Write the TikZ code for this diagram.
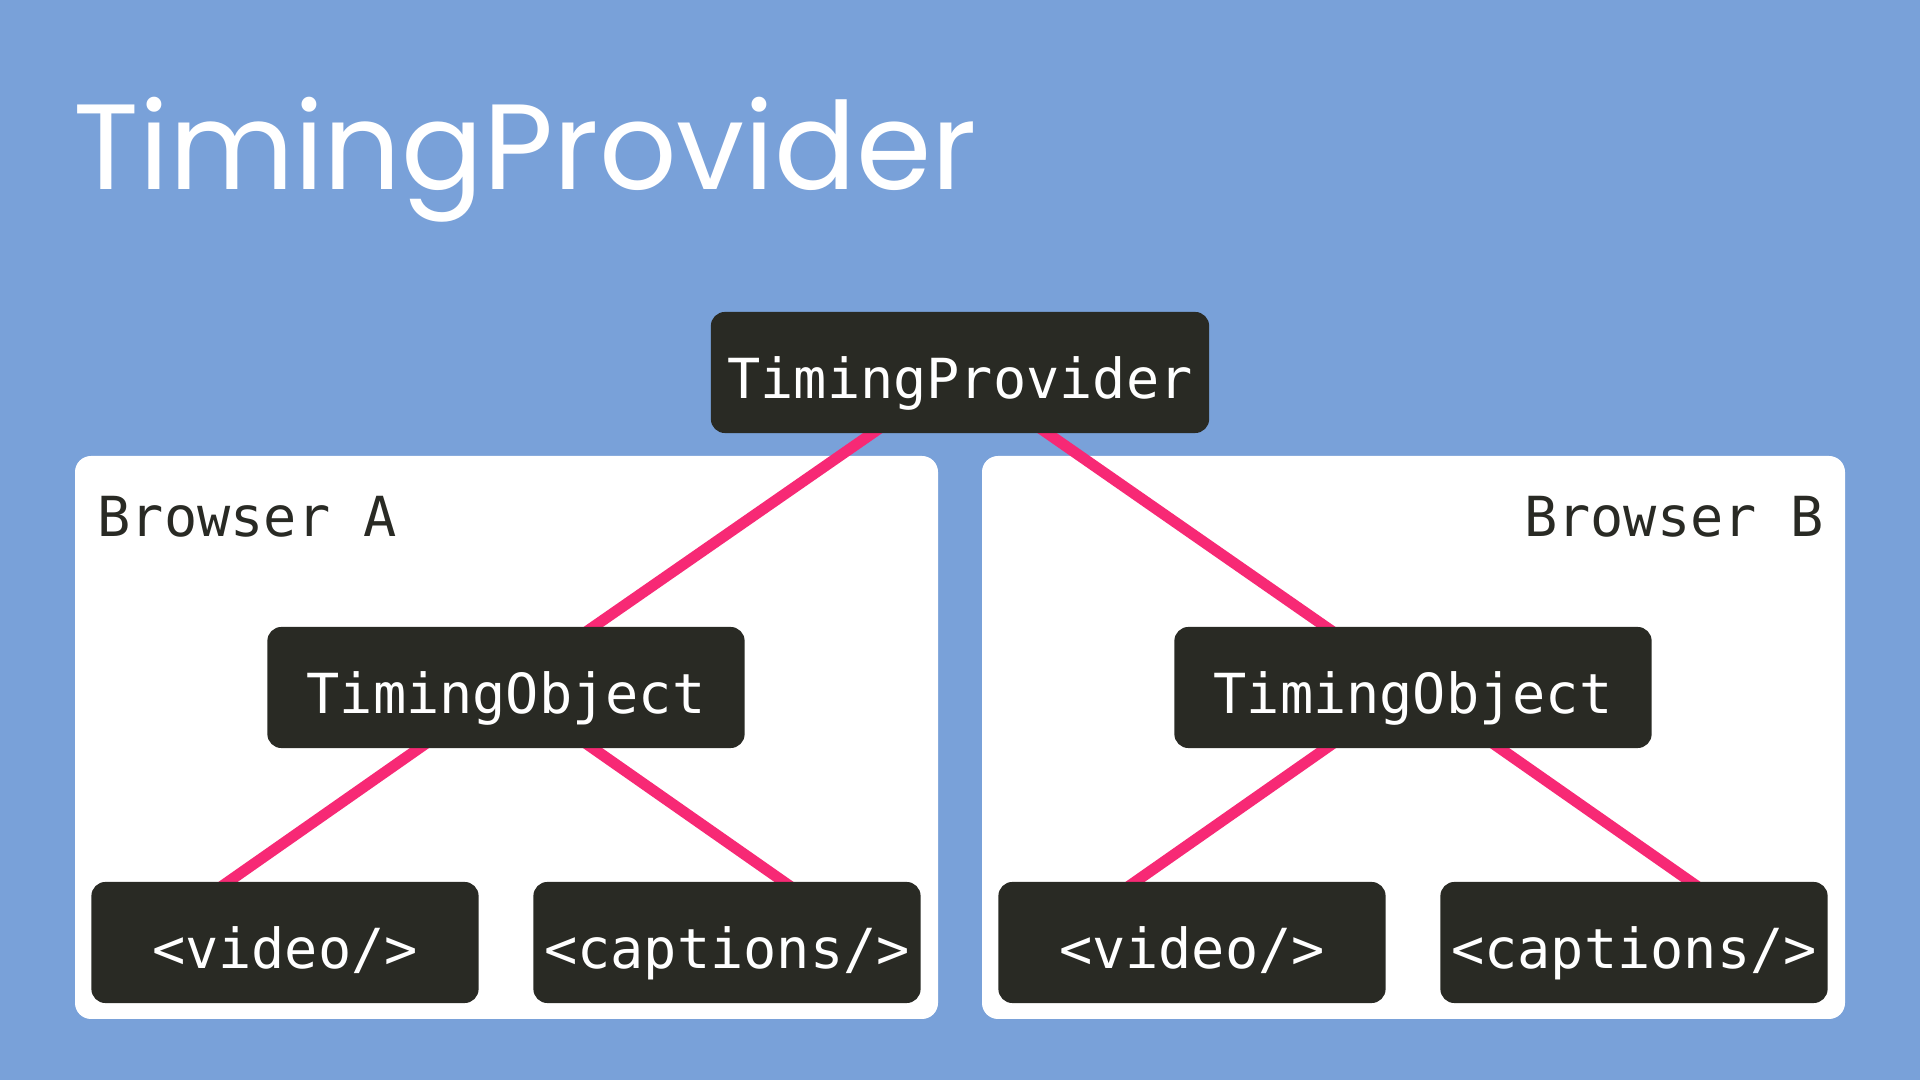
\documentclass[tikz,border=0pt]{standalone}
\usepackage{fontspec}
\setmainfont{Poppins}
\setmonofont{DejaVu Sans Mono}
\usepackage{tikz}
\usetikzlibrary{calc}
\definecolor{slideblue}{RGB}{121,161,217}
\definecolor{boxdark}{RGB}{41,42,36}
\definecolor{linkpink}{RGB}{247,41,117}
\pgfdeclarelayer{back}
\pgfdeclarelayer{links}
\pgfsetlayers{back,links,main}

\begin{document}
\begin{tikzpicture}[x=0.01cm, y=-0.01cm,
        tag/.style={fill=boxdark, text=white, rounded corners=0.14cm, inner sep=0pt,
            font=\ttfamily\fontsize{15.7}{18}\selectfont, text height=15pt, text depth=0pt,
            minimum height=1.21cm},
        browser/.style={fill=white, rounded corners=0.16cm},
        browserlabel/.style={text=boxdark, inner sep=0pt, font=\ttfamily\fontsize{15.7}{18}\selectfont},
        link/.style={draw=linkpink, line width=0.11cm}]
        \begin{pgfonlayer}{back}
            \fill[slideblue] (0,0) rectangle (1920,1080);
        \end{pgfonlayer}

        \node[anchor=base west, text=white, inner sep=0pt, font=\fontsize{34.5}{40}\selectfont] (title) at (73,190) {TimingProvider};

        \node[tag, minimum width=4.98cm] (provider) at (960,372.5) {TimingProvider};

        \foreach \b/\dx in {A/0, B/907} {
            \begin{pgfonlayer}{back}
                \fill[browser] (75+\dx,456) rectangle (938+\dx,1019);
            \end{pgfonlayer}
            \node[tag, minimum width=4.77cm] (obj\b) at (506+\dx,687.5) {TimingObject};
            \node[tag, minimum width=3.87cm] (video\b) at (285+\dx,942.5) {<video/>};
            \node[tag, minimum width=3.87cm] (captions\b) at (727+\dx,942.5) {<captions/>};
            \coordinate (vtip\b) at ($(video\b.north)+(-56,0)$);
            \coordinate (ctip\b) at ($(captions\b.north)+(56,0)$);
            \begin{pgfonlayer}{links}
                \draw[link] (provider.center) -- (obj\b.center);
                \draw[link] (obj\b.center) -- ($(obj\b.center)!1.15!(vtip\b)$);
                \draw[link] (obj\b.center) -- ($(obj\b.center)!1.15!(ctip\b)$);
            \end{pgfonlayer}
        }

        \node[browserlabel, anchor=base west] (browserA) at (97,537) {Browser A};
        \node[browserlabel, anchor=base east] (browserB) at (1824,537) {Browser B};
    \end{tikzpicture}
\end{document}
